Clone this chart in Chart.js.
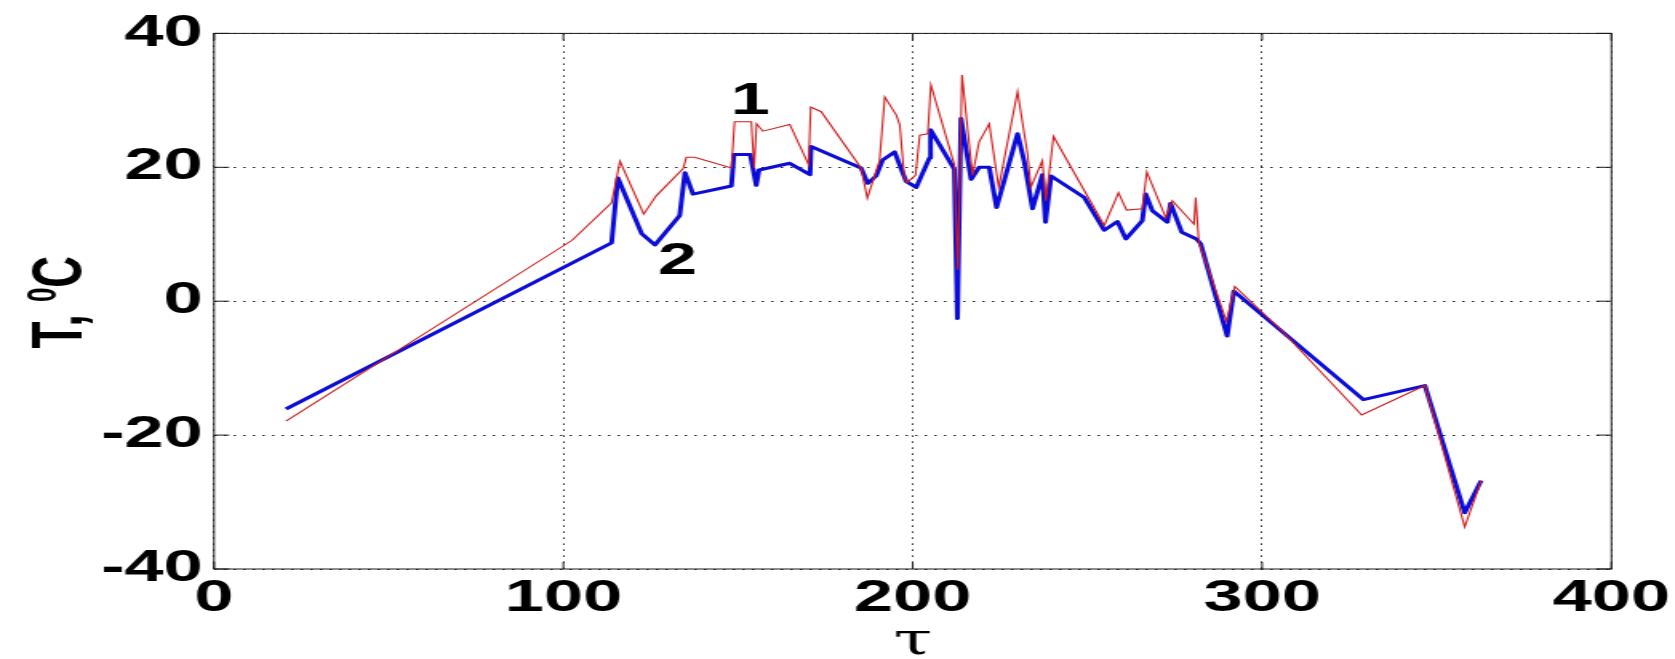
<!DOCTYPE html>
<html>
<head>
<meta charset="utf-8">
<title>T(tau)</title>
<script src="https://cdn.jsdelivr.net/npm/chart.js@4.4.1/dist/chart.umd.min.js"></script>
<style>
  html, body { margin: 0; padding: 0; background: #fff; }
</style>
</head>
<body>
<!-- the source is a horizontally stretched MATLAB figure: draw 1047 wide, stretch to 1675 with css -->
<canvas id="chart" width="1047" height="659" style="width:1675px;height:659px;background:#fff"></canvas>
<script>
// curve 1 (red, thin)
const tau1 = [20.6, 102.5, 113.8, 116.2, 123.0, 126.5, 134.3, 135.2, 137.6, 148.1, 149.0, 153.8, 154.6, 155.3, 157.1,
  164.8, 170.2, 170.8, 173.8, 185.2, 187.0, 190.5, 192.0, 195.3, 196.3, 197.6, 198.3, 200.8, 202.0, 204.3, 205.2,
  211.9, 212.9, 214.1, 217.1, 219.0, 221.9, 224.6, 230.0, 232.9, 233.8, 237.1, 238.1, 240.3, 254.8, 258.9, 261.2,
  265.7, 267.0, 272.4, 274.3, 280.5, 281.0, 281.9, 289.8, 292.2, 306.0, 328.5, 346.6, 358.0, 362.7];
const temp1 = [-17.9, 9.1, 14.7, 20.9, 13.0, 15.7, 19.8, 21.5, 21.5, 19.9, 26.8, 26.8, 19.9, 26.5, 25.4,
  26.4, 20.4, 29.0, 28.3, 19.9, 15.4, 21.0, 30.5, 27.8, 26.3, 18.5, 17.7, 18.8, 24.8, 25.0, 32.3,
  20.4, 4.7, 33.8, 18.8, 23.8, 26.5, 17.0, 31.3, 21.9, 17.0, 21.0, 15.0, 24.6, 11.3, 16.2, 13.6,
  13.8, 19.3, 12.5, 15.0, 11.5, 15.5, 8.8, -3.0, 2.2, -4.6, -17.0, -12.6, -33.7, -26.8];

// curve 2 (blue, thick)
const tau2 = [20.6, 113.8, 115.6, 122.4, 126.2, 133.3, 134.8, 137.1, 148.1, 148.8, 153.5, 155.2, 156.0, 164.8,
  170.6, 170.9, 185.2, 187.1, 189.5, 191.4, 194.8, 198.1, 201.0, 204.8, 205.1, 211.9, 212.8, 213.8, 216.7,
  219.0, 221.9, 224.0, 230.0, 231.9, 234.3, 237.1, 238.0, 239.6, 249.1, 254.8, 258.6, 261.0, 265.7, 266.7,
  268.6, 272.9, 273.8, 277.0, 281.2, 282.4, 290.0, 291.9, 329.0, 346.6, 358.0, 362.7];
const temp2 = [-16.1, 8.7, 18.4, 10.1, 8.4, 12.8, 19.2, 16.0, 17.2, 21.9, 21.9, 17.3, 19.6, 20.6,
  18.9, 23.1, 19.9, 17.6, 18.7, 21.1, 22.3, 17.9, 17.0, 21.4, 25.6, 19.7, -2.6, 27.3, 18.2,
  20.0, 20.0, 14.0, 25.0, 20.9, 13.8, 18.9, 11.8, 18.7, 15.5, 10.6, 11.9, 9.3, 12.0, 16.0,
  13.5, 11.8, 14.6, 10.3, 9.3, 8.6, -5.2, 1.5, -14.7, -12.6, -31.6, -26.8];

const xTicks = [0, 100, 200, 300, 400];
const yTicks = [-40, -20, 0, 20, 40];

// curve numbers written on the plot
const curveNames = ["1", "2"];
const nameTau = [153.5, 132.7];
const nameTemp = [29.8, 5.9];

const FONT = "'Liberation Sans', Arial, Helvetica, sans-serif";

const toPoints = (xs, ys) => xs.map((x, i) => ({ x: x, y: ys[i] }));

// box, inner ticks and the texts matlab puts around the axes
const extras = {
  id: "extras",
  afterDraw(chart) {
    const { ctx, chartArea: a, scales: { x, y } } = chart;
    ctx.save();
    ctx.strokeStyle = "#1a1a1a";
    ctx.lineWidth = 1;
    ctx.strokeRect(a.left, a.top, a.right - a.left, a.bottom - a.top);

    ctx.beginPath();
    xTicks.forEach((v) => {
      const px = x.getPixelForValue(v);
      ctx.moveTo(px, a.bottom);
      ctx.lineTo(px, a.bottom - 7);
      ctx.moveTo(px, a.top);
      ctx.lineTo(px, a.top + 7);
    });
    yTicks.forEach((v) => {
      const py = y.getPixelForValue(v);
      ctx.moveTo(a.left, py);
      ctx.lineTo(a.left + 9.5, py);
      ctx.moveTo(a.right, py);
      ctx.lineTo(a.right - 9.5, py);
    });
    ctx.stroke();

    ctx.fillStyle = "#000";
    ctx.font = "bold 44px " + FONT;
    ctx.textAlign = "center";
    ctx.textBaseline = "middle";
    curveNames.forEach((n, i) => {
      ctx.fillText(n, x.getPixelForValue(nameTau[i]), y.getPixelForValue(nameTemp[i]));
    });

    // x label
    ctx.font = "44px 'DejaVu Serif', 'Liberation Serif', serif";
    ctx.textBaseline = "alphabetic";
    ctx.fillText("\u03c4", x.getPixelForValue(200), 654);

    // y label "T, ^0C"
    ctx.translate(51, (a.top + a.bottom) / 2 + 1);
    ctx.rotate(-Math.PI / 2);
    ctx.textAlign = "left";
    const big = "bold 44px " + FONT;
    const small = "bold 26px " + FONT;
    ctx.font = big;
    const w1 = ctx.measureText("T, ").width;
    const w3 = ctx.measureText("C").width;
    ctx.font = small;
    const w2 = ctx.measureText("0").width;
    let cx = -(w1 + w2 + w3) / 2;
    ctx.font = big;
    ctx.fillText("T, ", cx, 0);
    cx += w1;
    ctx.font = small;
    ctx.fillText("0", cx, -16);
    cx += w2;
    ctx.font = big;
    ctx.fillText("C", cx, 0);
    ctx.restore();
  },
};

Chart.defaults.font.family = FONT;
Chart.defaults.font.size = 44;
Chart.defaults.font.weight = "bold";
Chart.defaults.color = "#000";

new Chart(document.getElementById("chart"), {
  type: "line",
  data: {
    datasets: [
      {
        label: "1",
        data: toPoints(tau1, temp1),
        borderColor: "#d01c1c",
        borderWidth: 1.1,
        pointRadius: 0,
        tension: 0,
        fill: false,
      },
      {
        label: "2",
        data: toPoints(tau2, temp2),
        borderColor: "#0c0cd8",
        borderWidth: 3,
        borderJoinStyle: "round",
        pointRadius: 0,
        tension: 0,
        fill: false,
      },
    ],
  },
  options: {
    responsive: false,
    animation: false,
    devicePixelRatio: 1,
    layout: { padding: { top: 27, right: 38.5, left: 0, bottom: 0 } },
    plugins: {
      legend: { display: false },
      tooltip: { enabled: false },
    },
    scales: {
      x: {
        type: "linear",
        min: 0,
        max: 400,
        afterBuildTicks: (s) => { s.ticks = xTicks.map((v) => ({ value: v })); },
        afterFit: (s) => { s.height = 90; },
        grid: { color: "#222", lineWidth: 1, drawTicks: false },
        border: { display: false, dash: [1.5, 4.5] },
        ticks: { padding: 3, maxRotation: 0, autoSkip: false },
      },
      y: {
        type: "linear",
        min: -40,
        max: 40,
        afterBuildTicks: (s) => { s.ticks = yTicks.map((v) => ({ value: v })); },
        afterFit: (s) => { s.width = 133.8; },
        grid: { color: "#222", lineWidth: 1, drawTicks: false },
        border: { display: false, dash: [1.5, 4.5] },
        ticks: { padding: 7, autoSkip: false },
      },
    },
  },
  plugins: [extras],
});
</script>
</body>
</html>
